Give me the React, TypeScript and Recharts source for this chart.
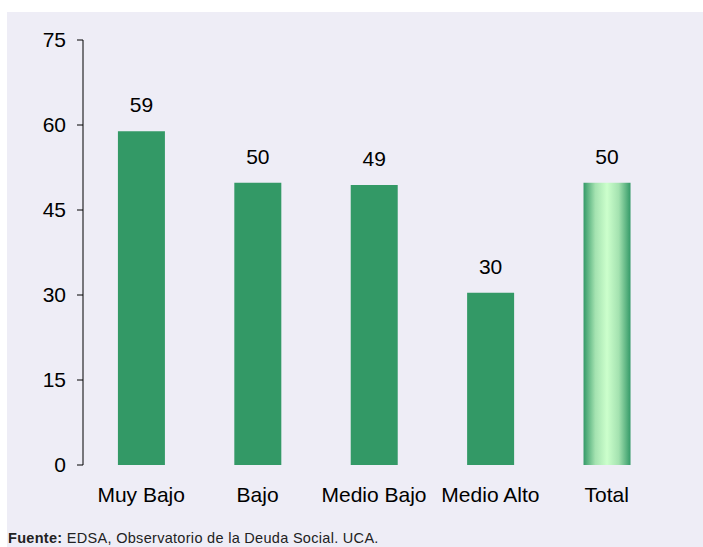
import React from 'react';
import { BarChart, Bar, XAxis, YAxis, Cell, LabelList } from 'recharts';

const categories = ['Muy Bajo', 'Bajo', 'Medio Bajo', 'Medio Alto', 'Total'];
const values = [58.9, 49.8, 49.4, 30.4, 49.8];
const yTicks = [0, 15, 30, 45, 60, 75];
const boundaryTicks = [0, 1, 2, 3, 4, 5];

const data = categories.map((c, i) => ({ name: c, value: values[i], pos: i + 0.5 }));

const FONT = '"Liberation Sans", Arial, sans-serif';
const GREEN = '#339966';

export default function App() {
  return (
    <div
      style={{
        position: 'absolute',
        left: 7,
        top: 12,
        width: 696,
        height: 535,
        background: '#eeedf6',
        fontFamily: FONT,
      }}
    >
      <BarChart
        width={696}
        height={500}
        data={data}
        margin={{ top: 28, right: 38, left: 0, bottom: 17 }}
        barCategoryGap="30%"
      >
        <defs>
          <linearGradient id="totalGrad" x1="0" y1="0" x2="1" y2="0">
            <stop offset="0" stopColor="#349a68" />
            <stop offset="0.25" stopColor="#a4e2b0" />
            <stop offset="0.5" stopColor="#ccffcc" />
            <stop offset="0.75" stopColor="#a4e2b0" />
            <stop offset="1" stopColor="#349a68" />
          </linearGradient>
        </defs>
        <XAxis
          xAxisId="b"
          type="number"
          dataKey="pos"
          domain={[0, 5]}
          ticks={boundaryTicks}
          allowDataOverflow
          height={0}
          tick={false}
          tickSize={6}
          tickLine={{ stroke: '#555' }}
          axisLine={{ stroke: '#666' }}
        />
        <XAxis
          dataKey="name"
          height={30}
          tickLine={false}
          axisLine={false}
          tickSize={6}
          tickMargin={16}
          interval={0}
          tick={{ fill: '#000', fontSize: 21, fontFamily: FONT }}
        />
        <YAxis
          width={76}
          domain={[0, 75]}
          ticks={yTicks}
          tickSize={6}
          tickMargin={11}
          axisLine={{ stroke: '#000' }}
          tickLine={{ stroke: '#000' }}
          tick={{ fill: '#000', fontSize: 21, fontFamily: FONT }}
        />
        <Bar dataKey="value" isAnimationActive={false}>
          {data.map((d, i) => (
            <Cell key={d.name} fill={i === data.length - 1 ? 'url(#totalGrad)' : GREEN} />
          ))}
          <LabelList
            dataKey="value"
            position="top"
            offset={19}
            formatter={(v: number) => Math.round(v)}
            style={{ fill: '#000', fontSize: 21, fontFamily: FONT }}
          />
        </Bar>
      </BarChart>
      <div
        style={{
          position: 'absolute',
          left: 1,
          top: 518,
          fontSize: 14.5,
          letterSpacing: 0.3,
          lineHeight: '16px',
          color: '#222',
          whiteSpace: 'nowrap',
        }}
      >
        <b>Fuente:</b> EDSA, Observatorio de la Deuda Social. UCA.
      </div>
    </div>
  );
}
